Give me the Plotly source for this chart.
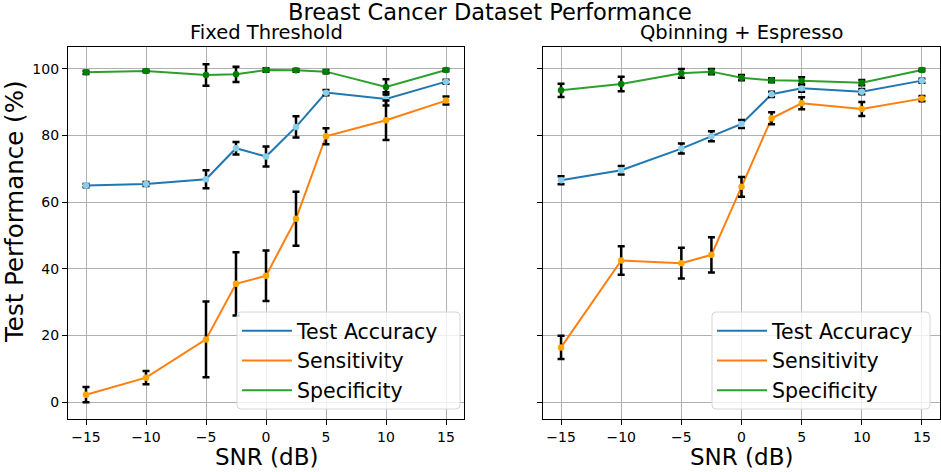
import plotly.graph_objects as go

# SNR values (dB)
snr = [-15, -10, -5, -2.5, 0, 2.5, 5, 10, 15]

# Fixed Threshold panel
fixed_acc = [65.0, 65.5, 66.9, 76.2, 73.7, 82.6, 92.9, 91.0, 96.2]
fixed_acc_err = [0.5, 0.6, 2.7, 1.9, 3.0, 3.2, 0.8, 2.0, 0.6]
fixed_sens = [2.2, 7.3, 18.8, 35.5, 37.9, 55.0, 79.8, 84.6, 90.5]
fixed_sens_err = [2.3, 2.0, 11.4, 9.5, 7.6, 8.1, 2.4, 5.9, 1.2]
fixed_spec = [99.0, 99.4, 98.2, 98.4, 99.7, 99.6, 99.2, 94.6, 99.7]
fixed_spec_err = [0.5, 0.4, 3.2, 2.3, 0.5, 0.4, 0.5, 2.3, 0.4]

# Qbinning + Espresso panel
qb_acc = [66.6, 69.6, 76.1, 79.8, 83.5, 92.4, 94.2, 93.2, 96.5]
qb_acc_err = [1.2, 1.3, 1.5, 1.5, 1.2, 0.8, 1.0, 0.8, 0.6]
qb_sens = [16.4, 42.5, 41.7, 44.2, 64.6, 85.2, 89.7, 88.0, 91.1]
qb_sens_err = [3.5, 4.3, 4.6, 5.3, 3.0, 1.8, 1.8, 2.1, 0.8]
qb_spec = [93.6, 95.5, 98.7, 99.2, 97.4, 96.6, 96.5, 95.9, 99.7]
qb_spec_err = [2.0, 2.2, 1.3, 0.8, 0.8, 0.6, 1.0, 0.8, 0.4]

SERIES = [
    ("Test Accuracy", "#1f77b4", "#87ceeb"),
    ("Sensitivity", "#ff7f0e", "#ffa500"),
    ("Specificity", "#2ca02c", "#008000"),
]

panels = [
    ("x", "y", "legend", [(fixed_acc, fixed_acc_err), (fixed_sens, fixed_sens_err), (fixed_spec, fixed_spec_err)]),
    ("x2", "y2", "legend2", [(qb_acc, qb_acc_err), (qb_sens, qb_sens_err), (qb_spec, qb_spec_err)]),
]

FONT = "DejaVu Sans"
W, H = 941, 472
ML, MR, MT, MB = 68, 1, 47, 53
PW, PH = W - ML - MR, H - MT - MB


def px(x):
    return (x - ML) / PW


def py(y):
    return (H - MB - y) / PH


fig = go.Figure()

for xa, ya, leg, data in panels:
    # lines (these carry the legend)
    for (name, line_color, _), (vals, _) in zip(SERIES, data):
        fig.add_trace(go.Scatter(
            x=snr, y=vals, mode="lines", name=name,
            line=dict(color=line_color, width=2),
            xaxis=xa, yaxis=ya, legend=leg,
        ))
    # error bars + markers on top
    for (name, _, marker_color), (vals, errs) in zip(SERIES, data):
        fig.add_trace(go.Scatter(
            x=snr, y=vals, mode="markers", showlegend=False,
            marker=dict(color=marker_color, size=6.5, symbol="circle"),
            error_y=dict(type="data", array=errs, color="black", thickness=2.5, width=3.5),
            xaxis=xa, yaxis=ya, legend=leg,
        ))

axis_common = dict(
    showline=True, linecolor="black", linewidth=1.2, mirror=True,
    showgrid=True, gridcolor="#b0b0b0", gridwidth=1,
    ticks="outside", ticklen=5, tickcolor="black", tickwidth=1,
    zeroline=False, automargin=False,
    tickfont=dict(family=FONT, size=14, color="black"),
)

x_common = dict(
    axis_common, range=[-16.5, 16.5], tickvals=[-15, -10, -5, 0, 5, 10, 15],
    ticktext=["\u221215", "\u221210", "\u22125", "0", "5", "10", "15"],
)
y_common = dict(axis_common, range=[-5.1, 106.6], tickvals=[0, 20, 40, 60, 80, 100])

legend_common = dict(
    font=dict(family=FONT, size=20.5, color="black"),
    bgcolor="rgba(0,0,0,0)", borderwidth=0,
    xanchor="left", yanchor="top", tracegroupgap=0, itemwidth=50,
)

left_dom = [0, px(464)]
right_dom = [px(543), 1]

fig.update_layout(
    width=W, height=H,
    margin=dict(l=ML, r=MR, t=MT, b=MB),
    paper_bgcolor="white", plot_bgcolor="white",
    font=dict(family=FONT, color="black"),
    xaxis=dict(x_common, domain=left_dom, anchor="y"),
    xaxis2=dict(x_common, domain=right_dom, anchor="y2"),
    yaxis=dict(y_common, domain=[0, 1], anchor="x"),
    yaxis2=dict(y_common, domain=[0, 1], anchor="x2", matches="y", showticklabels=False),
    legend=dict(legend_common, x=px(237), y=py(311)),
    legend2=dict(legend_common, x=px(712), y=py(311)),
    showlegend=True,
)


# legend frames (matplotlib-style rounded box, semi-transparent white)
def rounded_box(x0, y0, x1, y1, r=4):
    X0, X1 = px(x0), px(x1)
    Y0, Y1 = py(y0), py(y1)
    rx, ry = r / PW, r / PH
    return (f"M {X0 + rx},{Y0} L {X1 - rx},{Y0} Q {X1},{Y0} {X1},{Y0 - ry} "
            f"L {X1},{Y1 + ry} Q {X1},{Y1} {X1 - rx},{Y1} "
            f"L {X0 + rx},{Y1} Q {X0},{Y1} {X0},{Y1 + ry} "
            f"L {X0},{Y0 - ry} Q {X0},{Y0} {X0 + rx},{Y0} Z")


for bx0, bx1 in [(237, 460), (712, 930)]:
    fig.add_shape(type="path", path=rounded_box(bx0, 312, bx1, 409),
                  xref="paper", yref="paper", layer="above",
                  fillcolor="rgba(255,255,255,0.8)", line=dict(color="#d6d6d6", width=1))

texts = [
    ("Breast Cancer Dataset Performance", 490, 12, 22.5, 0),
    ("Fixed Threshold", 266, 32, 19.5, 0),
    ("Qbinning + Espresso", 741, 32, 19.5, 0),
    ("SNR (dB)", 266, 457, 23, 0),
    ("SNR (dB)", 741, 457, 23, 0),
    ("Test Performance (%)", 14, 212, 24.5, -90),
]
for text, x, y, size, angle in texts:
    fig.add_annotation(
        text=text, x=px(x), y=py(y), xref="paper", yref="paper",
        showarrow=False, xanchor="center", yanchor="middle", textangle=angle,
        font=dict(family=FONT, size=size, color="black"),
    )

fig.write_html("out.html", config={"displayModeBar": False},
               post_script="document.body.style.margin='0';")
